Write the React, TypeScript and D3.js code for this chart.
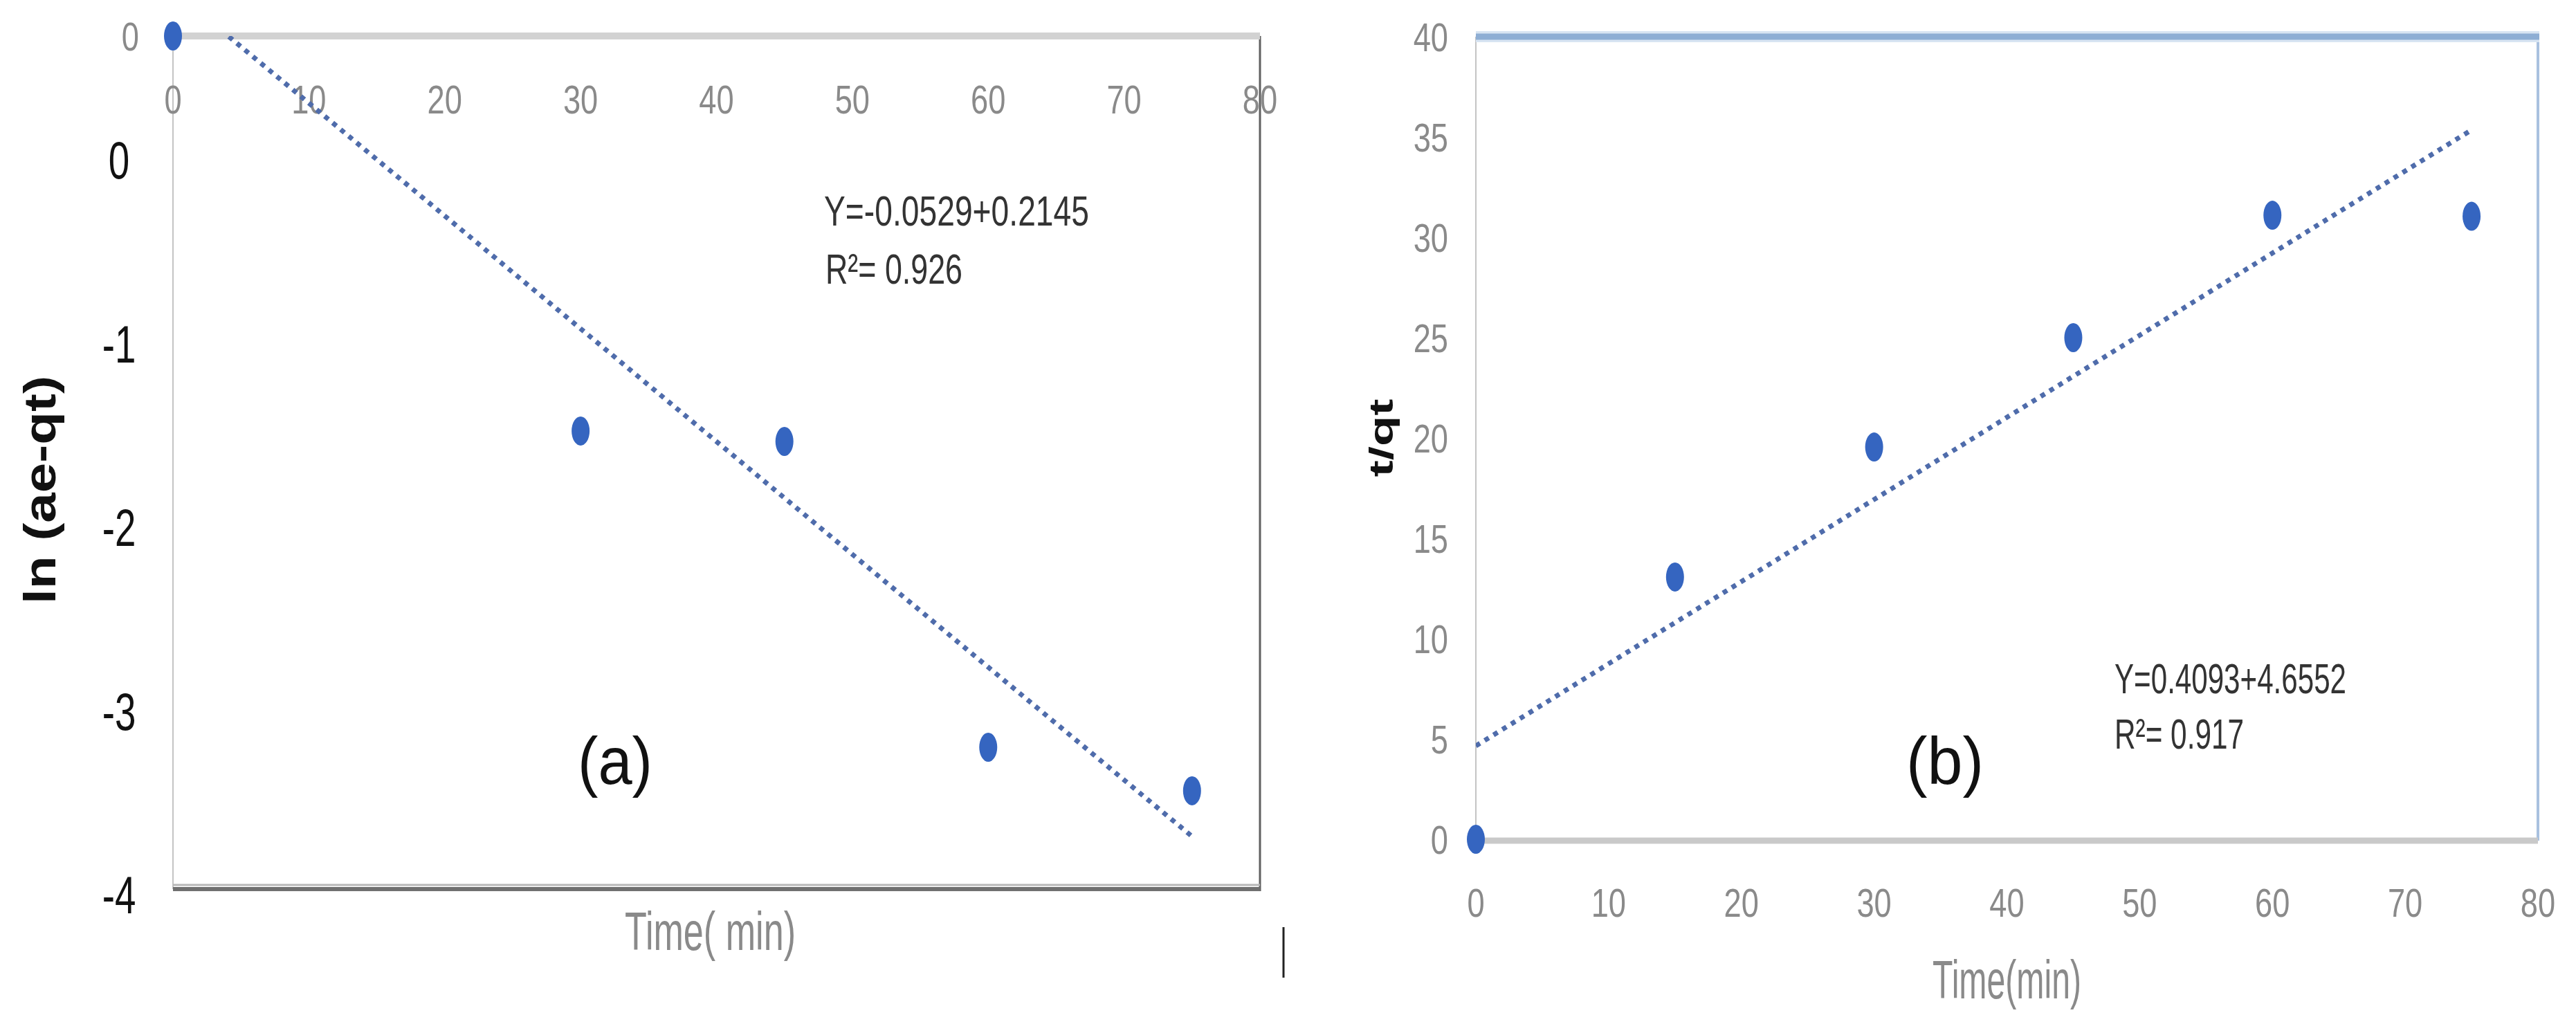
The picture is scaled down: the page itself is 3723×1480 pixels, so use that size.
import React from "react";
import * as d3 from "d3";

const W = 3723;
const H = 1480;

// ---------- Panel (a) data ----------
const timeA = [0, 30, 45, 60, 75];
const lnA = [0, -1.852, -1.901, -3.335, -3.539];
const xTickValues = [0, 10, 20, 30, 40, 50, 60, 70, 80];
const overlayTickValuesA = [0, -1, -2, -3, -4];
const overlayTickLabelsA = ["0", "-1", "-2", "-3", "-4"];
const trendA = { slope: -0.0529, intercept: 0.2145, x0: 0, x1: 75 };
const eqA = "Y=-0.0529+0.2145";
const r2A = "R\u00B2= 0.926";

// ---------- Panel (b) data ----------
const timeB = [0, 15, 30, 45, 60, 75];
const tqB = [0, 13.07, 19.55, 25.0, 31.1, 31.05];
const yTickValuesB = [0, 5, 10, 15, 20, 25, 30, 35, 40];
const trendB = { slope: 0.4093, intercept: 4.6552, x0: 0, x1: 75 };
const eqB = "Y=0.4093+4.6552";
const r2B = "R\u00B2= 0.917";

const FONT = "'Liberation Sans', Arial, sans-serif";
const DOT = "#3565c0";
const TREND = "#4f6cab";
const TICK = "#8a8a8a";

// scales
const xA = d3.scaleLinear().domain([0, 80]).range([250, 1821]);
const yA = d3.scaleLinear().domain([0, -4]).range([52, 1285]);
const yAOverlay = d3.scaleLinear().domain([0, -4]).range([231, 1293]);
const xB = d3.scaleLinear().domain([0, 80]).range([2133, 3668]);
const yB = d3.scaleLinear().domain([0, 40]).range([1213, 53]);

function Label(props: {
  x: number;
  y: number;
  size: number;
  sx?: number;
  anchor?: string;
  fill?: string;
  weight?: string | number;
  children: React.ReactNode;
}) {
  const { x, y, size, sx = 0.78, anchor = "middle", fill = TICK, weight = "normal", children } = props;
  return (
    <text
      transform={`translate(${x},${y}) scale(${sx},1)`}
      textAnchor={anchor}
      fontSize={size}
      fill={fill}
      fontWeight={weight}
      fontFamily={FONT}
    >
      {children}
    </text>
  );
}

function FitText(props: {
  x: number;
  y: number;
  size: number;
  len: number;
  fill?: string;
  anchor?: string;
  weight?: string | number;
  rotate?: number;
  children: React.ReactNode;
}) {
  const { x, y, size, len, fill = "#333", anchor = "start", weight = "normal", rotate = 0, children } = props;
  return (
    <text
      transform={`translate(${x},${y}) rotate(${rotate})`}
      textAnchor={anchor}
      fontSize={size}
      fill={fill}
      fontWeight={weight}
      fontFamily={FONT}
      textLength={len}
      lengthAdjust="spacingAndGlyphs"
    >
      {children}
    </text>
  );
}

function trendPath(
  t: { slope: number; intercept: number; x0: number; x1: number },
  xs: d3.ScaleLinear<number, number>,
  ys: d3.ScaleLinear<number, number>
) {
  const pts: [number, number][] = [t.x0, t.x1].map((x) => [x, t.slope * x + t.intercept]);
  return d3
    .line<[number, number]>()
    .x((d) => xs(d[0]))
    .y((d) => ys(d[1]))(pts) as string;
}

export default function App() {
  const [ax0, ax1] = xA.range();
  const [ay0, ay1] = yA.range();
  const [bx0, bx1] = xB.range();
  const by0 = yB(40);
  const by1 = yB(0);

  return (
    <svg
      width={W}
      height={H}
      viewBox={`0 0 ${W} ${H}`}
      style={{ position: "absolute", left: 0, top: 0, display: "block", background: "#fff" }}
    >
      <rect x={0} y={0} width={W} height={H} fill="#fff" />
      <defs>
        <clipPath id="clipA">
          <rect x={ax0} y={ay0} width={ax1 - ax0} height={ay1 - ay0} />
        </clipPath>
        <clipPath id="clipB">
          <rect x={bx0} y={by0} width={bx1 - bx0} height={by1 - by0} />
        </clipPath>
      </defs>

      {/* ================= Panel (a) ================= */}
      <line x1={ax0} x2={ax0} y1={ay0} y2={ay1} stroke="#c4c4c4" strokeWidth={2} />
      <line x1={ax1} x2={ax1} y1={ay0} y2={ay1 + 3} stroke="#606060" strokeWidth={3} />
      <line x1={ax0} x2={ax1} y1={ay0} y2={ay0} stroke="#d2d2d2" strokeWidth={10} />
      <line x1={ax0} x2={ax1} y1={ay1 - 6} y2={ay1 - 6} stroke="#b8b8b8" strokeWidth={3} />
      <line x1={ax0} x2={ax1} y1={ay1} y2={ay1} stroke="#707070" strokeWidth={6} />

      {xTickValues.map((v) => (
        <Label key={"axa" + v} x={xA(v)} y={yA(0) + 112} size={58}>
          {String(v)}
        </Label>
      ))}
      <Label x={201} y={yA(0) + 21} size={58} anchor="end">
        0
      </Label>
      {overlayTickValuesA.map((v, i) => (
        <Label key={"oya" + v} x={172} y={yAOverlay(v) + 27} size={76} sx={0.72} fill="#111">
          {overlayTickLabelsA[i]}
        </Label>
      ))}

      <path
        d={trendPath(trendA, xA, yA)}
        clipPath="url(#clipA)"
        fill="none"
        stroke={TREND}
        strokeWidth={7}
        strokeDasharray="7 8"
      />
      {timeA.map((t, i) => (
        <ellipse key={"pa" + i} cx={xA(t)} cy={yA(lnA[i])} rx={13} ry={21} fill={DOT} />
      ))}

      <FitText x={1191} y={326} size={62} len={383}>
        {eqA}
      </FitText>
      <FitText x={1193} y={410} size={62} len={198}>
        {r2A}
      </FitText>
      <FitText x={835} y={1133} size={96} len={108} fill="#111">
        (a)
      </FitText>

      <FitText x={903} y={1373} size={78} len={247} fill={TICK}>
        Time( min)
      </FitText>
      <FitText x={80} y={708} size={64} len={330} fill="#111" anchor="middle" weight="bold" rotate={-90}>
        ln (ae-qt)
      </FitText>
      <line x1={1855} x2={1855} y1={1340} y2={1413} stroke="#222" strokeWidth={3} />

      {/* ================= Panel (b) ================= */}
      <line x1={bx0} x2={bx0} y1={by0} y2={by1} stroke="#c4c4c4" strokeWidth={2} />
      <line x1={bx1} x2={bx1} y1={by0} y2={by1 + 2} stroke="#a9c1df" strokeWidth={4} />
      <line x1={bx0} x2={bx1 + 2} y1={by0} y2={by0} stroke="#d8e4f2" strokeWidth={16} />
      <line x1={bx0} x2={bx1 + 2} y1={by0} y2={by0} stroke="#8eaed4" strokeWidth={9} />
      <line x1={bx0} x2={bx1} y1={by1 + 2} y2={by1 + 2} stroke="#c9c9c9" strokeWidth={9} />

      {yTickValuesB.map((v) => (
        <Label key={"ayb" + v} x={2093} y={yB(v) + 21} size={58} anchor="end">
          {String(v)}
        </Label>
      ))}
      {xTickValues.map((v) => (
        <Label key={"axb" + v} x={xB(v)} y={yB(0) + 112} size={58}>
          {String(v)}
        </Label>
      ))}

      <path
        d={trendPath(trendB, xB, yB)}
        clipPath="url(#clipB)"
        fill="none"
        stroke={TREND}
        strokeWidth={7}
        strokeDasharray="7 8"
      />
      {timeB.map((t, i) => (
        <ellipse key={"pb" + i} cx={xB(t)} cy={yB(tqB[i])} rx={13} ry={21} fill={DOT} />
      ))}

      <FitText x={3056} y={1002} size={62} len={335}>
        {eqB}
      </FitText>
      <FitText x={3056} y={1082} size={62} len={187}>
        {r2B}
      </FitText>
      <FitText x={2755} y={1133} size={96} len={112} fill="#111">
        (b)
      </FitText>

      <FitText x={2793} y={1443} size={77} len={215} fill={TICK}>
        Time(min)
      </FitText>
      <FitText x={2013} y={633} size={48} len={113} fill="#111" anchor="middle" weight="bold" rotate={-90}>
        t/qt
      </FitText>
    </svg>
  );
}
